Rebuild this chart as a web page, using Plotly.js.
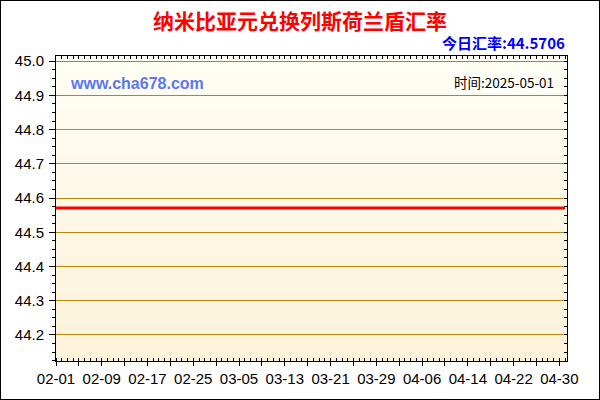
<!DOCTYPE html>
<html>
<head>
<meta charset="utf-8">
<script src="https://cdn.plot.ly/plotly-3.0.1.min.js"></script>
<style>
html,body{margin:0;padding:0;background:#fff;}
#wrap{position:relative;width:600px;height:400px;}
#chart{width:600px;height:400px;}
#frame{position:absolute;left:0;top:0;width:600px;height:400px;box-sizing:border-box;border:1px solid #000;pointer-events:none;}
</style>
</head>
<body>
<div id="wrap"><div id="chart"></div><div id="frame"></div></div>
<script>
// Data
const dates = [
 '2025-02-01','2025-02-02','2025-02-03','2025-02-04','2025-02-05','2025-02-06','2025-02-07','2025-02-08','2025-02-09','2025-02-10',
 '2025-02-11','2025-02-12','2025-02-13','2025-02-14','2025-02-15','2025-02-16','2025-02-17','2025-02-18','2025-02-19','2025-02-20',
 '2025-02-21','2025-02-22','2025-02-23','2025-02-24','2025-02-25','2025-02-26','2025-02-27','2025-02-28',
 '2025-03-01','2025-03-02','2025-03-03','2025-03-04','2025-03-05','2025-03-06','2025-03-07','2025-03-08','2025-03-09','2025-03-10',
 '2025-03-11','2025-03-12','2025-03-13','2025-03-14','2025-03-15','2025-03-16','2025-03-17','2025-03-18','2025-03-19','2025-03-20',
 '2025-03-21','2025-03-22','2025-03-23','2025-03-24','2025-03-25','2025-03-26','2025-03-27','2025-03-28','2025-03-29','2025-03-30','2025-03-31',
 '2025-04-01','2025-04-02','2025-04-03','2025-04-04','2025-04-05','2025-04-06','2025-04-07','2025-04-08','2025-04-09','2025-04-10',
 '2025-04-11','2025-04-12','2025-04-13','2025-04-14','2025-04-15','2025-04-16','2025-04-17','2025-04-18','2025-04-19','2025-04-20',
 '2025-04-21','2025-04-22','2025-04-23','2025-04-24','2025-04-25','2025-04-26','2025-04-27','2025-04-28','2025-04-29','2025-04-30',
 '2025-05-01'
];
const rates = [
 44.5706,44.5706,44.5706,44.5706,44.5706,44.5706,44.5706,44.5706,44.5706,44.5706,
 44.5706,44.5706,44.5706,44.5706,44.5706,44.5706,44.5706,44.5706,44.5706,44.5706,
 44.5706,44.5706,44.5706,44.5706,44.5706,44.5706,44.5706,44.5706,
 44.5706,44.5706,44.5706,44.5706,44.5706,44.5706,44.5706,44.5706,44.5706,44.5706,
 44.5706,44.5706,44.5706,44.5706,44.5706,44.5706,44.5706,44.5706,44.5706,44.5706,
 44.5706,44.5706,44.5706,44.5706,44.5706,44.5706,44.5706,44.5706,44.5706,44.5706,44.5706,
 44.5706,44.5706,44.5706,44.5706,44.5706,44.5706,44.5706,44.5706,44.5706,44.5706,
 44.5706,44.5706,44.5706,44.5706,44.5706,44.5706,44.5706,44.5706,44.5706,44.5706,
 44.5706,44.5706,44.5706,44.5706,44.5706,44.5706,44.5706,44.5706,44.5706,44.5706,
 44.5706
];
const xTickVals = ['2025-02-01','2025-02-05','2025-02-09','2025-02-13','2025-02-17','2025-02-21','2025-02-25','2025-03-01',
 '2025-03-05','2025-03-09','2025-03-13','2025-03-17','2025-03-21','2025-03-25','2025-03-29','2025-04-02',
 '2025-04-06','2025-04-10','2025-04-14','2025-04-18','2025-04-22','2025-04-26','2025-04-30'];
const xTickText = ['02-01','','02-09','','02-17','','02-25','','03-05','','03-13','','03-21','','03-29','',
 '04-06','','04-14','','04-22','','04-30'];
const yTickVals = [44.2,44.3,44.4,44.5,44.6,44.7,44.8,44.9,45.0];
const yTickText = ['44.2','44.3','44.4','44.5','44.6','44.7','44.8','44.9','45.0'];
const titleText = '纳米比亚元兑换列斯荷兰盾汇率';
const todayText = '今日汇率:44.5706';
const siteText = 'www.cha678.com';
const timeText = '时间:2025-05-01';

// background gradient strips (style only)
const shapes = [];
const N = 40;
const c0 = [255,254,244], c1 = [253,242,218];
for (let i = 0; i < N; i++) {
  const t = i/(N-1);
  const c = c0.map((v,k)=>Math.round(v + (c1[k]-v)*t));
  shapes.push({type:'rect', xref:'paper', yref:'paper', x0:0, x1:1,
    y0:1 - (i+1)/N, y1:1 - i/N + 0.001, line:{width:0},
    fillcolor:'rgb('+c.join(',')+')', layer:'below'});
}

const tickFont = {family:'Liberation Sans, Arial, sans-serif', size:15, color:'#000'};
const traces = [{
  x: dates, y: rates, type:'scatter', mode:'lines',
  line:{color:'#ff0000', width:3}, hoverinfo:'x+y', showlegend:false
}];

const layout = {
  width:600, height:400,
  margin:{l:56, r:33, t:56, b:39},
  paper_bgcolor:'#ffffff', plot_bgcolor:'rgba(0,0,0,0)',
  showlegend:false,
  title:{text:titleText, font:{family:'Noto Sans CJK SC, sans-serif', size:21, color:'#ff0000', weight:'bold'},
    xref:'container', x:0.5, xanchor:'center', yref:'container', y:0.945, yanchor:'middle'},
  xaxis:{type:'date', range:['2025-02-01','2025-05-01 08:00'],
    tickmode:'array', tickvals:xTickVals, ticktext:xTickText,
    ticks:'outside', ticklen:4, tickcolor:'#000', tickwidth:1,
    minor:{dtick:86400000, ticks:'inside', ticklen:3, tickcolor:'#000', showgrid:false},
    showline:true, linecolor:'#000', linewidth:1, mirror:true,
    showgrid:false, zeroline:false, tickfont:tickFont, tickangle:0, fixedrange:true},
  xaxis2:{type:'date', overlaying:'x', side:'top', matches:'x', range:['2025-02-01','2025-05-01 08:00'],
    tickmode:'array', tickvals:xTickVals, ticktext:xTickVals.map(()=>''),
    ticks:'inside', ticklen:3, tickcolor:'#000',
    minor:{dtick:86400000, ticks:'inside', ticklen:3, tickcolor:'#000', showgrid:false},
    showline:false, showgrid:false, zeroline:false, showticklabels:false},
  yaxis:{range:[44.124,45.015], tickmode:'array', tickvals:yTickVals, ticktext:yTickText,
    ticks:'outside', ticklen:6, tickcolor:'#000', tickwidth:1,
    minor:{dtick:0.025, ticks:'outside', ticklen:3, tickcolor:'#000', showgrid:false},
    showline:true, linecolor:'#000', linewidth:1, mirror:true,
    showgrid:true, gridcolor:'#b8860b', gridwidth:1, zeroline:false,
    tickfont:tickFont, ticklabelstandoff:2, fixedrange:true},
  yaxis2:{overlaying:'y', side:'right', range:[44.124,45.015], tickmode:'array', tickvals:yTickVals,
    ticktext:yTickVals.map(()=>''), ticks:'inside', ticklen:5, tickcolor:'#000',
    minor:{dtick:0.025, ticks:'inside', ticklen:3, tickcolor:'#000', showgrid:false},
    showline:false, showgrid:false, zeroline:false, showticklabels:false},
  shapes: shapes,
  annotations:[
    {text:todayText, xref:'paper', yref:'paper', x:1, y:1, xanchor:'right', yanchor:'bottom', yshift:1, showarrow:false,
      font:{family:'Noto Sans CJK SC, sans-serif', size:15, color:'#0000ff', weight:'bold'}},
    {text:siteText, xref:'paper', yref:'paper', x:0.0235, y:0.911, xanchor:'left', yanchor:'middle', showarrow:false,
      font:{family:'Liberation Sans, Arial, sans-serif', size:16, color:'#5b78f0', weight:'bold'}},
    {text:timeText, xref:'paper', yref:'paper', x:0.978, y:0.915, xanchor:'right', yanchor:'middle', showarrow:false,
      bgcolor:'#fffffa', font:{family:'Noto Sans CJK SC, sans-serif', size:13.5, color:'#000'}}
  ]
};

// dummy traces to activate mirrored inside-tick axes
traces.push({x:[dates[0]], y:[rates[0]], xaxis:'x2', yaxis:'y2', type:'scatter', mode:'markers',
  marker:{opacity:0}, hoverinfo:'skip', showlegend:false});

Plotly.newPlot('chart', traces, layout, {displayModeBar:false, staticPlot:true});
</script>
</body>
</html>
